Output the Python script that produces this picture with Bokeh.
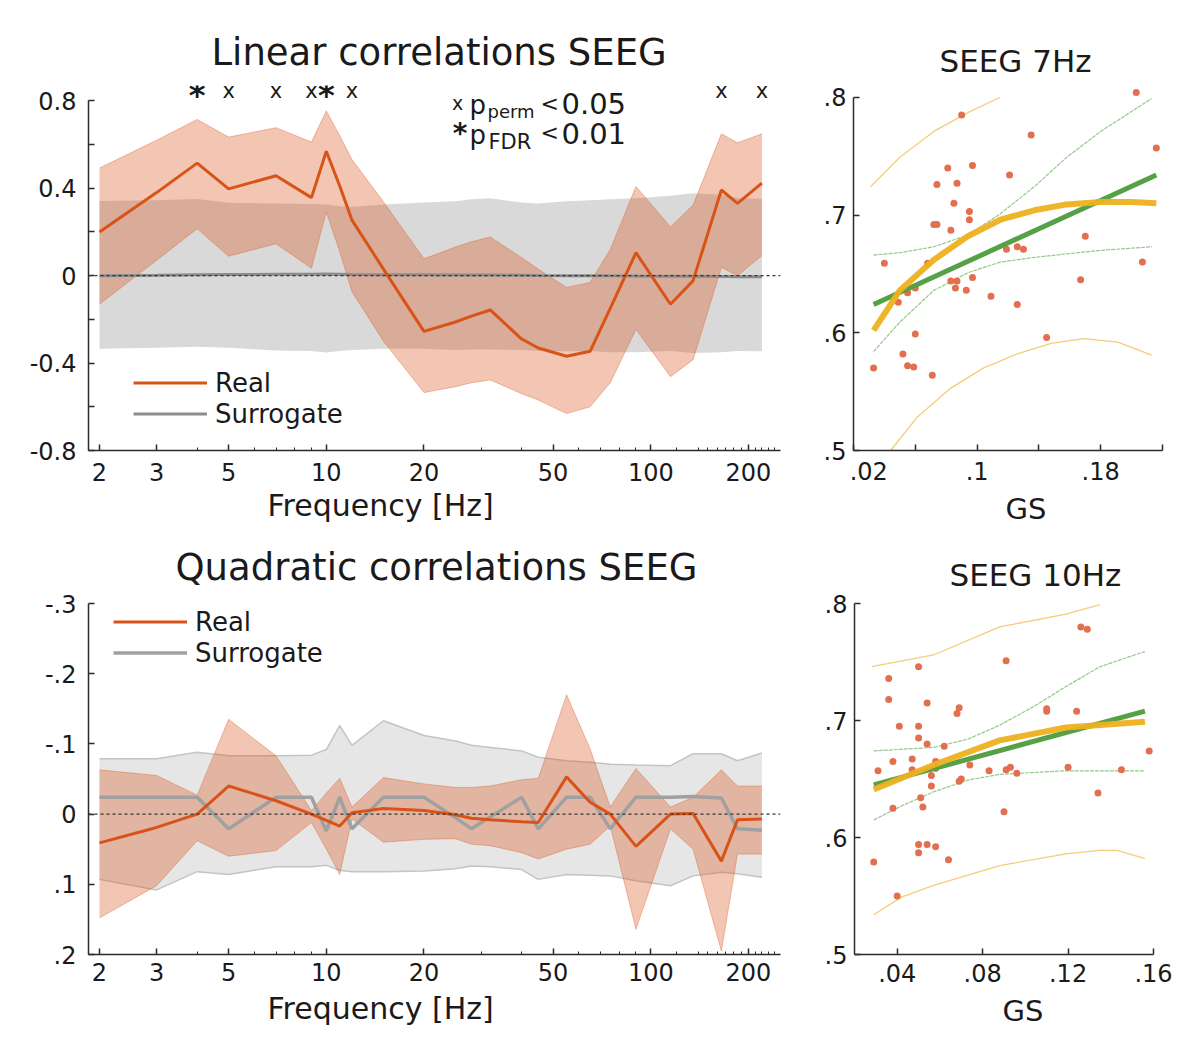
from bokeh.plotting import figure
from bokeh.models import Range1d, FixedTicker, Span, Label, Legend, LegendItem, Title
from bokeh.layouts import column, row
from bokeh.embed import file_html
from bokeh.resources import INLINE

FONT = "DejaVu Sans"
RED = "#D95319"
AX = "#2b2b2b"
TXT = "#1a1a1a"
GREEN = "#56a046"
YEL = "#EDB120"
NB = "\u00a0"

# ---------------- data: frequency panels ----------------
freqs = [2, 3, 4, 5, 7, 9, 10, 11, 12, 15, 20, 25, 28, 32, 40, 45, 55, 65, 75, 90, 115, 135, 165, 185, 220]

lin_real = [0.20, 0.38, 0.515, 0.397, 0.457, 0.357, 0.569, 0.41, 0.254, 0.03, -0.255, -0.212, -0.185, -0.157,
            -0.29, -0.331, -0.369, -0.346, -0.15, 0.105, -0.131, -0.023, 0.392, 0.331, 0.423]
lin_real_hi = [0.492, 0.62, 0.715, 0.634, 0.677, 0.611, 0.754, 0.64, 0.531, 0.338, 0.077, 0.131, 0.155, 0.177,
               0.082, 0.03, -0.054, -0.031, 0.12, 0.408, 0.223, 0.323, 0.649, 0.608, 0.649]
lin_real_lo = [-0.131, 0.07, 0.215, 0.089, 0.146, 0.034, 0.292, 0.11, -0.074, -0.30, -0.535, -0.508, -0.49, -0.477,
               -0.54, -0.569, -0.631, -0.60, -0.49, -0.246, -0.462, -0.385, 0.038, 0.0, 0.092]
lin_sur = [0.0, 0.002, 0.004, 0.005, 0.006, 0.006, 0.007, 0.006, 0.005, 0.004, 0.004, 0.003, 0.003, 0.003,
           0.002, 0.001, 0.0, 0.0, -0.001, -0.002, -0.003, -0.003, -0.004, -0.005, -0.005]
lin_sur_hi = [0.342, 0.345, 0.351, 0.333, 0.33, 0.328, 0.326, 0.318, 0.315, 0.325, 0.335, 0.34, 0.35, 0.354,
              0.335, 0.33, 0.34, 0.345, 0.35, 0.354, 0.365, 0.377, 0.37, 0.355, 0.351]
lin_sur_lo = [-0.335, -0.33, -0.325, -0.33, -0.342, -0.345, -0.352, -0.345, -0.34, -0.335, -0.335, -0.34, -0.338,
              -0.338, -0.34, -0.345, -0.346, -0.345, -0.35, -0.35, -0.345, -0.354, -0.35, -0.345, -0.346]
sig_fdr = [4, 10]
sig_perm = [5, 7, 9, 12, 165, 220]

quad_real = [0.041, 0.019, 0.0, -0.040, -0.019, 0.0, 0.009, 0.017, -0.002, -0.008, -0.005, 0.001, 0.006, 0.008,
             0.011, 0.012, -0.053, -0.017, 0.0, 0.046, 0.0, -0.001, 0.067, 0.008, 0.007]
quad_real_lo = [-0.063, -0.055, -0.027, -0.135, -0.083, -0.005, -0.03, -0.051, -0.010, -0.052, -0.043, -0.038,
                -0.038, -0.040, -0.049, -0.051, -0.170, -0.093, -0.010, -0.065, -0.010, -0.024, -0.063, -0.040, -0.040]
quad_real_hi = [0.148, 0.102, 0.038, 0.060, 0.052, 0.012, 0.05, 0.086, 0.007, 0.040, 0.036, 0.035, 0.043, 0.045,
                0.055, 0.064, 0.05, 0.043, 0.017, 0.164, 0.021, 0.05, 0.195, 0.057, 0.057]
quad_sur = [-0.024, -0.024, -0.024, 0.021, -0.024, -0.024, 0.024, -0.024, 0.021, -0.024, -0.024, 0.005, 0.021,
            0.004, -0.024, 0.021, -0.024, -0.024, 0.021, -0.024, -0.024, -0.025, -0.023, 0.021, 0.023]
quad_sur_lo = [-0.079, -0.079, -0.088, -0.083, -0.083, -0.084, -0.092, -0.126, -0.098, -0.133, -0.112, -0.104,
               -0.098, -0.095, -0.090, -0.081, -0.076, -0.074, -0.071, -0.07, -0.069, -0.086, -0.086, -0.076, -0.087]
quad_sur_hi = [0.093, 0.108, 0.082, 0.086, 0.075, 0.075, 0.073, 0.08, 0.082, 0.082, 0.081, 0.078, 0.074, 0.075,
               0.079, 0.093, 0.086, 0.087, 0.088, 0.095, 0.102, 0.088, 0.083, 0.085, 0.090]

freq_ticks = [2, 3, 5, 10, 20, 50, 100, 200]
freq_minor = [4, 6, 7, 8, 9, 30, 40, 60, 70, 80, 90, 120, 140, 150, 160, 170, 180, 190, 210, 220, 230, 240]
lin_yticks = [-0.8, -0.6, -0.4, -0.2, 0, 0.2, 0.4, 0.6, 0.8]
lin_ylabels = ["-0.8", "", "-0.4", "", "0", "", "0.4", "", "0.8"]
quad_yticks = [-0.3, -0.2, -0.1, 0, 0.1, 0.2]
quad_ylabels = ["-.3", "-.2", "-.1", "0", ".1", ".2"]

# ---------------- data: scatter panels ----------------
gs7 = [0.033, 0.040, 0.049, 0.052, 0.055, 0.055, 0.059, 0.060, 0.060, 0.068, 0.071, 0.072, 0.074, 0.074, 0.081,
       0.083, 0.083, 0.085, 0.086, 0.087, 0.087, 0.090, 0.093, 0.095, 0.095, 0.097, 0.097, 0.109, 0.119, 0.121,
       0.126, 0.126, 0.130, 0.135, 0.145, 0.167, 0.170, 0.203, 0.207, 0.216]
val7 = [0.570, 0.659, 0.626, 0.582, 0.634, 0.572, 0.571, 0.638, 0.599, 0.659, 0.564, 0.692, 0.692, 0.726, 0.740,
        0.687, 0.644, 0.710, 0.638, 0.644, 0.727, 0.785, 0.636, 0.703, 0.696, 0.647, 0.742, 0.631, 0.671, 0.734,
        0.673, 0.624, 0.671, 0.768, 0.596, 0.645, 0.682, 0.804, 0.660, 0.757]
lin7_x = [0.033, 0.216]
lin7_y = [0.624, 0.734]
lin7_ci_x = [0.033, 0.05, 0.072, 0.094, 0.115, 0.137, 0.158, 0.18, 0.213]
lin7_ci_hi = [0.666, 0.668, 0.673, 0.683, 0.701, 0.724, 0.749, 0.771, 0.799]
lin7_ci_lo = [0.584, 0.609, 0.636, 0.651, 0.660, 0.664, 0.667, 0.670, 0.673]
quad7_x = [0.033, 0.05, 0.072, 0.094, 0.115, 0.137, 0.158, 0.18, 0.2, 0.216]
quad7_y = [0.602, 0.636, 0.662, 0.682, 0.696, 0.704, 0.709, 0.711, 0.711, 0.710]
quad7_hi_x = [0.031, 0.05, 0.072, 0.094, 0.115]
quad7_hi = [0.724, 0.749, 0.771, 0.787, 0.800]
quad7_lo_x = [0.044, 0.061, 0.083, 0.104, 0.126, 0.148, 0.169, 0.191, 0.213]
quad7_lo = [0.500, 0.528, 0.553, 0.570, 0.582, 0.591, 0.595, 0.592, 0.581]

gs10 = [0.029, 0.031, 0.036, 0.036, 0.038, 0.038, 0.040, 0.041, 0.047, 0.047, 0.050, 0.050, 0.050, 0.050, 0.050,
        0.051, 0.052, 0.054, 0.054, 0.054, 0.056, 0.056, 0.058, 0.058, 0.058, 0.062, 0.064, 0.068, 0.069, 0.069,
        0.070, 0.074, 0.083, 0.090, 0.091, 0.091, 0.093, 0.096, 0.110, 0.110, 0.120, 0.124, 0.126, 0.129, 0.134,
        0.145, 0.158]
val10 = [0.579, 0.657, 0.736, 0.718, 0.665, 0.625, 0.550, 0.695, 0.667, 0.658, 0.695, 0.685, 0.594, 0.587, 0.746,
         0.634, 0.626, 0.594, 0.715, 0.680, 0.644, 0.653, 0.592, 0.665, 0.659, 0.678, 0.581, 0.706, 0.711, 0.648,
         0.650, 0.662, 0.657, 0.622, 0.751, 0.658, 0.660, 0.655, 0.710, 0.708, 0.660, 0.708, 0.780, 0.778, 0.638,
         0.658, 0.674]
lin10_x = [0.029, 0.156]
lin10_y = [0.645, 0.708]
lin10_hi_x = [0.029, 0.057, 0.073, 0.088, 0.104, 0.119, 0.135, 0.156]
lin10_hi = [0.674, 0.677, 0.684, 0.696, 0.712, 0.729, 0.746, 0.759]
lin10_lo_x = [0.029, 0.042, 0.057, 0.073, 0.088, 0.119, 0.156]
lin10_lo = [0.615, 0.627, 0.639, 0.649, 0.654, 0.657, 0.657]
quad10_x = [0.029, 0.057, 0.088, 0.119, 0.156]
quad10_y = [0.641, 0.662, 0.683, 0.694, 0.699]
quad10_hi_x = [0.028, 0.057, 0.088, 0.119, 0.135]
quad10_hi = [0.746, 0.756, 0.780, 0.791, 0.799]
quad10_lo_x = [0.029, 0.042, 0.057, 0.088, 0.119, 0.135, 0.143, 0.156]
quad10_lo = [0.534, 0.549, 0.559, 0.576, 0.586, 0.589, 0.589, 0.582]

gs7_ticks = [0.02, 0.06, 0.1, 0.14, 0.18, 0.22]
gs7_labels = [NB * 4 + ".02", "", ".1", "", ".18", ""]
gs10_ticks = [0.04, 0.08, 0.12, 0.16]
gs10_labels = [".04", ".08", ".12", ".16"]
sc_yticks = [0.5, 0.6, 0.7, 0.8]
sc_ylabels = [".5", ".6", ".7", ".8"]


def base_fig(width, height, xr, yr, borders, x_axis_type="linear"):
    l, r, t, b = borders
    p = figure(width=width, height=height, x_range=xr, y_range=yr, x_axis_type=x_axis_type,
               output_backend="svg", toolbar_location=None, tools="",
               min_border_left=l, min_border_right=r, min_border_top=t, min_border_bottom=b)
    p.outline_line_color = None
    p.xgrid.visible = False
    p.ygrid.visible = False
    p.background_fill_color = "white"
    p.border_fill_color = "white"
    for ax in (p.xaxis[0], p.yaxis[0]):
        ax.axis_line_color = AX
        ax.axis_line_width = 1.5
        ax.major_tick_line_color = AX
        ax.major_tick_line_width = 1.5
        ax.minor_tick_line_color = AX
        ax.minor_tick_line_width = 1
        ax.major_tick_in = 6
        ax.major_tick_out = 0
        ax.minor_tick_in = 3
        ax.minor_tick_out = 0
        ax.major_label_text_font = FONT
        ax.major_label_text_font_size = "24px"
        ax.major_label_text_color = TXT
    return p


def set_ticks(axis, ticks, labels, minor=None):
    axis.ticker = FixedTicker(ticks=ticks, minor_ticks=minor or [])
    axis.major_label_overrides = {t: s for t, s in zip(ticks, labels)}


def set_title(p, text, size, offset, standoff):
    p.title.text = text
    p.title.text_font = FONT
    p.title.text_font_size = f"{size}px"
    p.title.text_font_style = "normal"
    p.title.text_color = TXT
    p.title.align = "left"
    p.title.offset = offset
    p.title.standoff = standoff


def add_xlabel(p, text, size, offset, standoff):
    p.add_layout(Title(text=text, text_font=FONT, text_font_size=f"{size}px", text_font_style="normal",
                       text_color=TXT, align="left", offset=offset, standoff=standoff), "below")


def add_text(p, sx, sy, text, size, align="left", bold=False):
    p.add_layout(Label(x=sx, y=sy, x_units="screen", y_units="screen", text=text,
                       text_font=FONT, text_font_size=f"{size}px", text_align=align,
                       text_baseline="middle", text_color=TXT,
                       text_font_style="bold" if bold else "normal"))


def make_legend(p, r_real, r_sur, loc):
    leg = Legend(items=[LegendItem(label="Real", renderers=[r_real]),
                        LegendItem(label="Surrogate", renderers=[r_sur])],
                 location=loc, orientation="vertical", glyph_width=74, glyph_height=31,
                 label_height=31, label_standoff=8, spacing=0, padding=0, margin=0,
                 border_line_color=None, background_fill_alpha=0,
                 label_text_font=FONT, label_text_font_size="26px", label_text_color=TXT)
    p.add_layout(leg)


# ---------------- top-left: linear correlations ----------------
p1 = base_fig(808, 529, Range1d(1.85, 251), Range1d(-0.8, 0.87), (88, 28, 85, 79), "log")
set_ticks(p1.xaxis[0], freq_ticks, [str(t) for t in freq_ticks], freq_minor)
set_ticks(p1.yaxis[0], lin_yticks, lin_ylabels)
p1.yaxis[0].bounds = (-0.8, 0.8)
p1.xaxis[0].major_label_standoff = 12
p1.yaxis[0].major_label_standoff = 12

p1.varea(x=freqs, y1=lin_sur_lo, y2=lin_sur_hi, fill_color="#d9d9d9", fill_alpha=1.0)
p1.varea(x=freqs, y1=lin_real_lo, y2=lin_real_hi, fill_color=RED, fill_alpha=0.33)
p1.line(freqs, lin_real_hi, line_color=RED, line_alpha=0.35, line_width=1)
p1.line(freqs, lin_real_lo, line_color=RED, line_alpha=0.35, line_width=1)
r1_sur = p1.line(freqs, lin_sur, line_color="#8c8c8c", line_width=3)
p1.add_layout(Span(location=0, dimension="width", line_color="#333333", line_dash="3 3", line_width=1.2))
r1_real = p1.line(freqs, lin_real, line_color=RED, line_width=3)
p1.text(x=sig_fdr, y=[0.85] * len(sig_fdr), text=["*"] * len(sig_fdr), text_font={"value": FONT},
        text_font_size="32px", text_font_style="bold", text_align="center", text_baseline="middle",
        y_offset=5, text_color=TXT)
p1.text(x=sig_perm, y=[0.85] * len(sig_perm), text=["x"] * len(sig_perm), text_font={"value": FONT},
        text_font_size="21px", text_align="center", text_baseline="middle", y_offset=1,
        text_color=TXT)
make_legend(p1, r1_real, r1_sur, (45, 21))
set_title(p1, "Linear correlations SEEG", 37, 123, 23)
add_xlabel(p1, "Frequency [Hz]", 30, 179, 5)
# significance key
add_text(p1, 369, 348, "x", 19, "center")
add_text(p1, 381, 346, "p", 26)
add_text(p1, 399, 339, "perm", 18)
add_text(p1, 452, 347, "<", 22)
add_text(p1, 473, 347, "0.05", 29)
add_text(p1, 371.5, 317, "*", 28, "center", bold=True)
add_text(p1, 381, 316, "p", 26)
add_text(p1, 400, 309, "FDR", 21)
add_text(p1, 452, 318, "<", 22)
add_text(p1, 473, 317, "0.01", 29)

# ---------------- top-right: SEEG 7Hz ----------------
p2 = base_fig(384, 529, Range1d(0.02, 0.22), Range1d(0.5, 0.81), (45, 30, 81, 79))
set_ticks(p2.xaxis[0], gs7_ticks, gs7_labels)
set_ticks(p2.yaxis[0], sc_yticks, sc_ylabels)
p2.yaxis[0].bounds = (0.5, 0.8)
p2.xaxis[0].major_label_standoff = 7
p2.yaxis[0].major_label_standoff = 7
p2.line(quad7_hi_x, quad7_hi, line_color="#f5cd7a", line_width=1.3)
p2.line(quad7_lo_x, quad7_lo, line_color="#f5cd7a", line_width=1.3)
p2.line(lin7_ci_x, lin7_ci_hi, line_color="#93c98a", line_width=1.2, line_dash="4 1")
p2.line(lin7_ci_x, lin7_ci_lo, line_color="#93c98a", line_width=1.2, line_dash="4 1")
p2.scatter(gs7, val7, size=7, fill_color="#e2704f", line_color=None)
p2.line(lin7_x, lin7_y, line_color=GREEN, line_width=5)
p2.line(quad7_x, quad7_y, line_color=YEL, line_width=6, line_alpha=0.95)
set_title(p2, "SEEG 7Hz", 31, 86, 14)
add_xlabel(p2, "GS", 29, 152, 2)

# ---------------- bottom-left: quadratic correlations ----------------
p3 = base_fig(808, 509, Range1d(1.85, 251), Range1d(0.2, -0.3), (88, 28, 74, 84), "log")
set_ticks(p3.xaxis[0], freq_ticks, [str(t) for t in freq_ticks], freq_minor)
set_ticks(p3.yaxis[0], quad_yticks, quad_ylabels)
p3.xaxis[0].major_label_standoff = 8
p3.yaxis[0].major_label_standoff = 12

p3.varea(x=freqs, y1=quad_sur_lo, y2=quad_sur_hi, fill_color="#e6e6e6", fill_alpha=1.0)
p3.line(freqs, quad_sur_lo, line_color="#c4c4c4", line_width=1.5)
p3.line(freqs, quad_sur_hi, line_color="#c4c4c4", line_width=1.5)
p3.varea(x=freqs, y1=quad_real_lo, y2=quad_real_hi, fill_color=RED, fill_alpha=0.33)
p3.line(freqs, quad_real_lo, line_color=RED, line_alpha=0.35, line_width=1)
p3.line(freqs, quad_real_hi, line_color=RED, line_alpha=0.35, line_width=1)
r3_sur = p3.line(freqs, quad_sur, line_color="#a0a0a0", line_width=3.5)
p3.add_layout(Span(location=0, dimension="width", line_color="#333333", line_dash="3 3", line_width=1.2))
r3_real = p3.line(freqs, quad_real, line_color=RED, line_width=3)
make_legend(p3, r3_real, r3_sur, (25, 286))
set_title(p3, "Quadratic correlations SEEG", 37, 87, 29)
add_xlabel(p3, "Frequency [Hz]", 30, 179, 11)

# ---------------- bottom-right: SEEG 10Hz ----------------
p4 = base_fig(384, 509, Range1d(0.02, 0.16), Range1d(0.5, 0.8), (46, 39, 74, 80))
set_ticks(p4.xaxis[0], gs10_ticks, gs10_labels)
set_ticks(p4.yaxis[0], sc_yticks, sc_ylabels)
p4.xaxis[0].major_label_standoff = 9
p4.yaxis[0].major_label_standoff = 7
p4.line(quad10_hi_x, quad10_hi, line_color="#f5cd7a", line_width=1.3)
p4.line(quad10_lo_x, quad10_lo, line_color="#f5cd7a", line_width=1.3)
p4.line(lin10_hi_x, lin10_hi, line_color="#93c98a", line_width=1.2, line_dash="4 1")
p4.line(lin10_lo_x, lin10_lo, line_color="#93c98a", line_width=1.2, line_dash="4 1")
p4.scatter(gs10, val10, size=7, fill_color="#e2704f", line_color=None)
p4.line(lin10_x, lin10_y, line_color=GREEN, line_width=5)
p4.line(quad10_x, quad10_y, line_color=YEL, line_width=6, line_alpha=0.95)
set_title(p4, "SEEG 10Hz", 31, 95, 21)
add_xlabel(p4, "GS", 29, 148, 14)

layout = column(row(p1, p2), row(p3, p4))
open("out.html", "w").write(file_html(layout, INLINE))
